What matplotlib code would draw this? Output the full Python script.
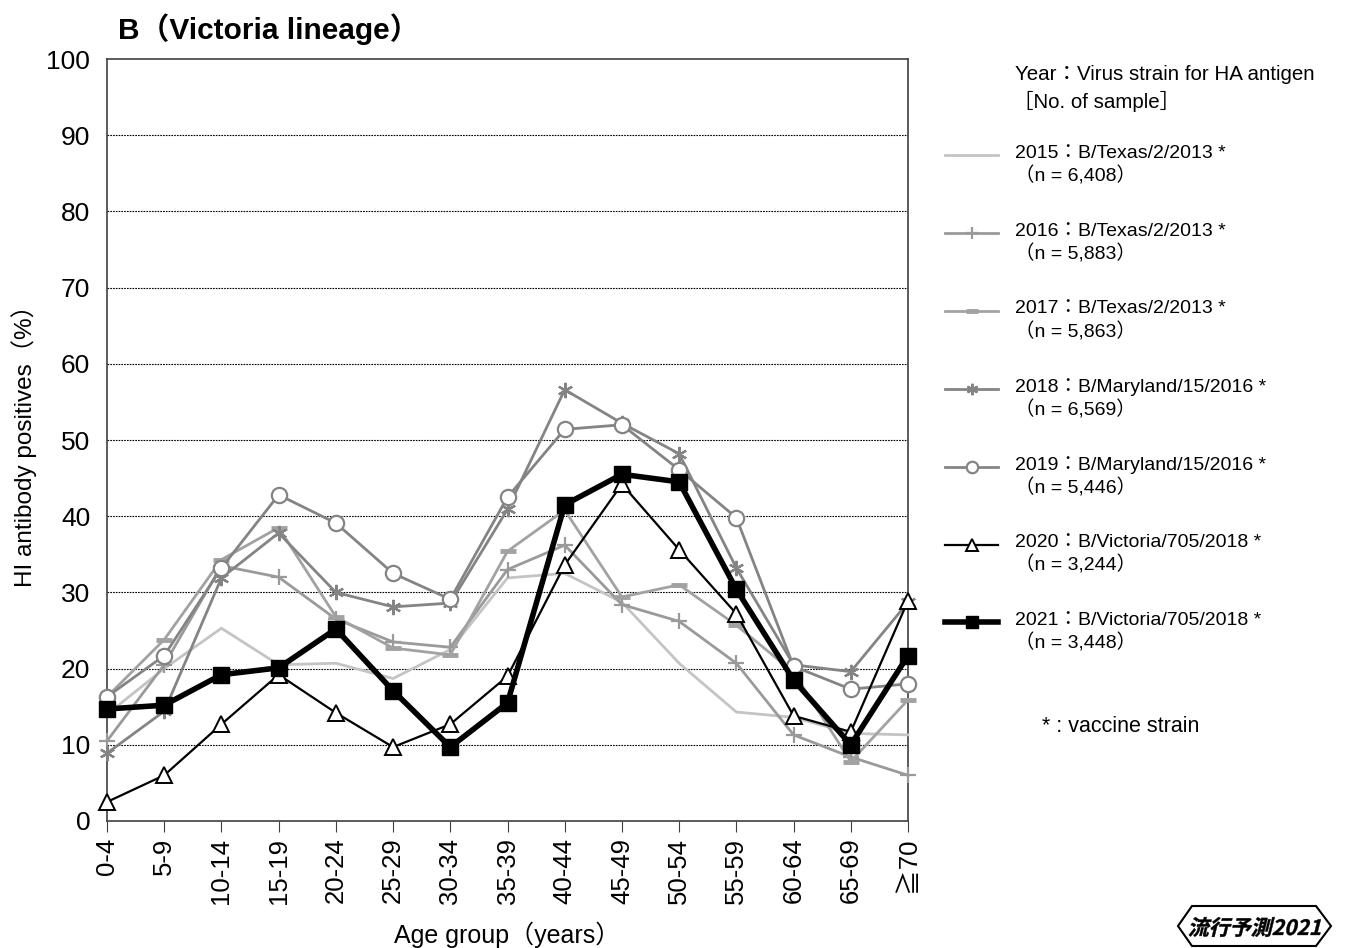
import numpy as np
import matplotlib
matplotlib.use("Agg")
import matplotlib.pyplot as plt
from matplotlib.lines import Line2D
from matplotlib.patches import Polygon, PathPatch
from matplotlib.textpath import TextPath
from matplotlib.font_manager import FontProperties
from matplotlib.transforms import Affine2D, IdentityTransform

plt.rcParams['font.family'] = ['Liberation Sans', 'Noto Sans CJK JP', 'DejaVu Sans']

# データ
ages = ["0-4", "5-9", "10-14", "15-19", "20-24", "25-29", "30-34", "35-39",
        "40-44", "45-49", "50-54", "55-59", "60-64", "65-69", "≧70"]

y2015 = [14.0, 20.0, 25.3, 20.5, 20.7, 18.7, 22.5, 31.9, 32.5, 28.7, 20.7, 14.3, 13.6, 11.5, 11.3]
y2016 = [10.5, 20.5, 33.5, 32.0, 26.5, 23.5, 22.8, 33.0, 36.2, 28.4, 26.2, 20.7, 11.3, 8.4, 6.0]
y2017 = [16.3, 23.8, 34.3, 38.5, 26.8, 22.7, 21.8, 35.4, 40.8, 29.4, 31.0, 25.7, 19.5, 7.8, 15.9]
y2018 = [8.9, 14.4, 31.9, 37.8, 30.0, 28.1, 28.6, 40.9, 56.6, 52.2, 48.2, 33.2, 20.5, 19.6, 28.7]
y2019 = [16.3, 21.7, 33.2, 42.8, 39.1, 32.5, 29.1, 42.5, 51.4, 52.0, 46.1, 39.8, 20.3, 17.3, 18.0]
y2020 = [2.5, 6.0, 12.7, 19.2, 14.2, 9.7, 12.7, 19.0, 33.6, 44.2, 35.6, 27.2, 13.8, 11.7, 28.9]
y2021 = [14.7, 15.2, 19.2, 20.1, 25.2, 17.1, 9.7, 15.5, 41.5, 45.5, 44.5, 30.4, 18.5, 10.0, 21.7]

legend_labels = ["2015：B/Texas/2/2013 *\n（n = 6,408）",
                 "2016：B/Texas/2/2013 *\n（n = 5,883）",
                 "2017：B/Texas/2/2013 *\n（n = 5,863）",
                 "2018：B/Maryland/15/2016 *\n（n = 6,569）",
                 "2019：B/Maryland/15/2016 *\n（n = 5,446）",
                 "2020：B/Victoria/705/2018 *\n（n = 3,244）",
                 "2021：B/Victoria/705/2018 *\n（n = 3,448）"]

fig = plt.figure(figsize=(13.48, 9.48), dpi=100)
W, H = 1348, 948
ax = fig.add_axes([107 / W, (H - 821) / H, (908 - 107) / W, (821 - 59) / H])

x = np.arange(len(ages))

styles = [
    dict(color="#c4c4c4", lw=2.0, marker=None),
    dict(color="#9a9a9a", lw=2.0, marker="+", ms=11, mew=1.6),
    dict(color="#a2a2a2", lw=2.0, marker="_", ms=11, mew=3.5),
    dict(color="#848484", lw=2.0, marker=(6, 2, 0), ms=11, mew=1.6),
    dict(color="#848484", lw=2.0, marker="o", ms=11, mfc="white", mew=1.6),
    dict(color="black", lw=1.6, marker="^", ms=11, mfc="white", mew=1.4),
    dict(color="black", lw=4.0, marker="s", ms=12, mfc="black", mew=1),
]
series = [y2015, y2016, y2017, y2018, y2019, y2020, y2021]

for i, (ys, st) in enumerate(zip(series, styles)):
    st = dict(st)
    color = st.pop("color")
    lw = st.pop("lw")
    ax.plot(x, ys, color=color, linewidth=lw, markeredgecolor=color, zorder=3 + i,
            clip_on=False, **st)

ax.set_xlim(0, 14)
ax.set_ylim(0, 100)
ax.set_yticks(np.arange(0, 101, 10))
ax.set_xticks(x)
ax.set_xticklabels(ages, rotation=90, fontsize=18.5)
ax.tick_params(axis="y", labelsize=19, length=0, pad=12)
ax.tick_params(axis="x", length=8, direction="out", pad=4, color="#404040")
for v in range(10, 100, 10):
    ax.axhline(v, color="black", linestyle=(0, (1.5, 1)), linewidth=0.8, zorder=1)
for s in ax.spines.values():
    s.set_color("#404040")
    s.set_linewidth(1.2)

fig.text(24 / W, 1 - 440 / H, "HI antibody positives（%）", fontsize=17.5, rotation=90,
         ha="center", va="center")
ax.set_xlabel("Age group（years）", fontsize=18, labelpad=13)

fig.text(118 / W, 1 - 29 / H, "B（Victoria lineage）", fontsize=21.5, fontweight="bold",
         va="center", ha="left")

# 凡例
fig.text(1015 / W, 1 - 75 / H, "Year：Virus strain for HA antigen", fontsize=14.8, va="center")
fig.text(1013 / W, 1 - 101 / H, "［No. of sample］", fontsize=14.8, va="center")
for i, (lab, st) in enumerate(zip(legend_labels, styles)):
    yc = 155 + i * 77.9
    st = dict(st)
    color = st.pop("color")
    lw = st.pop("lw")
    ms = st.pop("ms", 0) * 0.75
    fig.add_artist(Line2D([945 / W, 998 / W], [1 - yc / H] * 2, transform=fig.transFigure,
                          color=color, linewidth=lw))
    if st.get("marker"):
        fig.add_artist(Line2D([971.5 / W], [1 - yc / H], transform=fig.transFigure,
                              color=color, linestyle="none", markeredgecolor=color, ms=ms, **st))
    fig.text(1015 / W, 1 - (yc + 10) / H, lab, fontsize=14, va="center", linespacing=1.3)

fig.text(1042 / W, 1 - 727 / H, "* : vaccine strain", fontsize=15.5, va="center")

# ロゴ
pts = [(1192, 906), (1316, 906), (1331, 926), (1316, 946), (1192, 946), (1178, 926)]
fig.add_artist(Polygon([(px / W, 1 - py / H) for px, py in pts], closed=True,
                       transform=fig.transFigure, facecolor="white", edgecolor="black", lw=1.5))
tp = TextPath((0, 0), "流行予測2021", size=21,
              prop=FontProperties(family="Noto Sans CJK JP", weight="bold"))
bb = tp.get_extents()
tr = (Affine2D().translate(-bb.x0 - bb.width / 2, -bb.y0 - bb.height / 2)
      .skew_deg(14, 0).translate(1256, H - 927))
fig.add_artist(PathPatch(tr.transform_path(tp), transform=IdentityTransform(),
                         facecolor="black", edgecolor="black", lw=0.3))

fig.savefig("out.png", dpi=100)
